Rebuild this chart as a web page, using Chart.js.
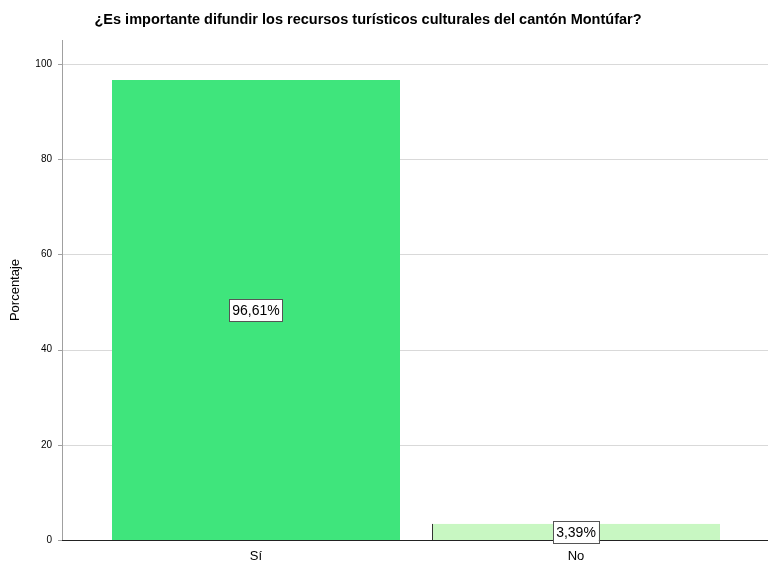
<!DOCTYPE html>
<html><head><meta charset="utf-8">
<script src="https://cdn.jsdelivr.net/npm/chart.js@4"></script>
<style>html,body{margin:0;padding:0;background:#fff}#wrap{width:768px;height:568px}</style>
</head><body><div id="wrap"><canvas id="c" width="768" height="568"></canvas></div>
<script>
const chartTitle = '¿Es importante difundir los recursos turísticos culturales del cantón Montúfar?';
const categories = ['Sí', 'No'];
const percentages = [96.61, 3.39];
const valueLabels = ['96,61%', '3,39%'];
const yTicks = [0, 20, 40, 60, 80, 100];
const yAxisTitle = 'Porcentaje';

const AXIS_LEFT = 62, AXIS_RIGHT = 768;

const framePlugin = {
  id: 'frame',
  beforeDatasetsDraw(chart) {
    const ctx = chart.ctx, y = chart.scales.y, area = chart.chartArea;
    ctx.save();
    ctx.strokeStyle = '#d9d9d9'; ctx.lineWidth = 1;
    yTicks.forEach(v => {
      if (v === 0) return;
      const py = Math.round(y.getPixelForValue(v)) + 0.5;
      ctx.beginPath(); ctx.moveTo(AXIS_LEFT, py); ctx.lineTo(AXIS_RIGHT, py); ctx.stroke();
    });
    ctx.strokeStyle = '#a0a0a0';
    ctx.beginPath(); ctx.moveTo(AXIS_LEFT + 0.5, area.top); ctx.lineTo(AXIS_LEFT + 0.5, area.bottom); ctx.stroke();
    yTicks.forEach(v => {
      const py = Math.round(y.getPixelForValue(v)) + 0.5;
      ctx.beginPath(); ctx.moveTo(AXIS_LEFT - 4, py); ctx.lineTo(AXIS_LEFT, py); ctx.stroke();
    });
    ctx.restore();
  },
  afterDatasetsDraw(chart) {
    const ctx = chart.ctx, y = chart.scales.y;
    ctx.save();
    ctx.strokeStyle = '#222'; ctx.lineWidth = 1;
    const py = Math.round(y.getPixelForValue(0)) + 0.5;
    ctx.beginPath(); ctx.moveTo(AXIS_LEFT, py); ctx.lineTo(AXIS_RIGHT, py); ctx.stroke();
    const meta = chart.getDatasetMeta(0);
    ctx.font = '14px "Liberation Sans", Arial, sans-serif';
    ctx.textAlign = 'center'; ctx.textBaseline = 'middle';
    meta.data.forEach((bar, i) => {
      const cx = bar.x, cy = (bar.y + bar.base) / 2;
      const txt = valueLabels[i];
      const w = ctx.measureText(txt).width + 6, h = 22;
      ctx.fillStyle = '#fff';
      ctx.fillRect(cx - w / 2, cy - h / 2, w, h);
      ctx.strokeStyle = '#555';
      ctx.strokeRect(Math.round(cx - w / 2) + 0.5, Math.round(cy - h / 2) + 0.5, Math.round(w), h);
      ctx.fillStyle = '#000';
      ctx.fillText(txt, cx, cy + 1);
    });
    ctx.restore();
  }
};

new Chart(document.getElementById('c'), {
  type: 'bar',
  data: {
    labels: categories,
    datasets: [{
      data: percentages,
      backgroundColor: ['#3fe57c', '#c8f7c2'],
      borderColor: ['#3fe57c', '#333'],
      borderWidth: [0, {left: 1, top: 0, right: 0, bottom: 0}],
      borderSkipped: false,
      barPercentage: 0.9,
      categoryPercentage: 1.0
    }]
  },
  options: {
    responsive: false,
    animation: false,
    devicePixelRatio: 1,
    layout: { padding: { left: 0, right: 32, top: 0, bottom: 0 } },
    plugins: {
      legend: { display: false },
      tooltip: { enabled: false },
      title: {
        display: true, text: chartTitle, color: '#000',
        font: { family: '"Liberation Sans", Arial, sans-serif', size: 14.5, weight: 'bold' },
        padding: { top: 11, bottom: 11.6 }
      }
    },
    scales: {
      x: {
        afterFit(scale) { scale.height = 28; },
        grid: { display: false, drawTicks: false },
        border: { display: false },
        ticks: { color: '#000', font: { family: '"Liberation Sans", Arial, sans-serif', size: 13 }, padding: 9 }
      },
      y: {
        min: 0, max: 105,
        afterBuildTicks(scale) { scale.ticks = yTicks.map(v => ({ value: v })); },
        afterFit(scale) { scale.width = 96; scale.paddingTop = 0; scale.paddingBottom = 0; },
        grid: { display: false, drawTicks: false },
        border: { display: false },
        ticks: { color: '#000', font: { family: '"Liberation Sans", Arial, sans-serif', size: 10 }, padding: 44 },
        title: {
          display: true, text: yAxisTitle, color: '#000',
          font: { family: '"Liberation Sans", Arial, sans-serif', size: 13 }, padding: { top: 8, bottom: 0 }
        }
      }
    }
  },
  plugins: [framePlugin]
});
</script></body></html>
